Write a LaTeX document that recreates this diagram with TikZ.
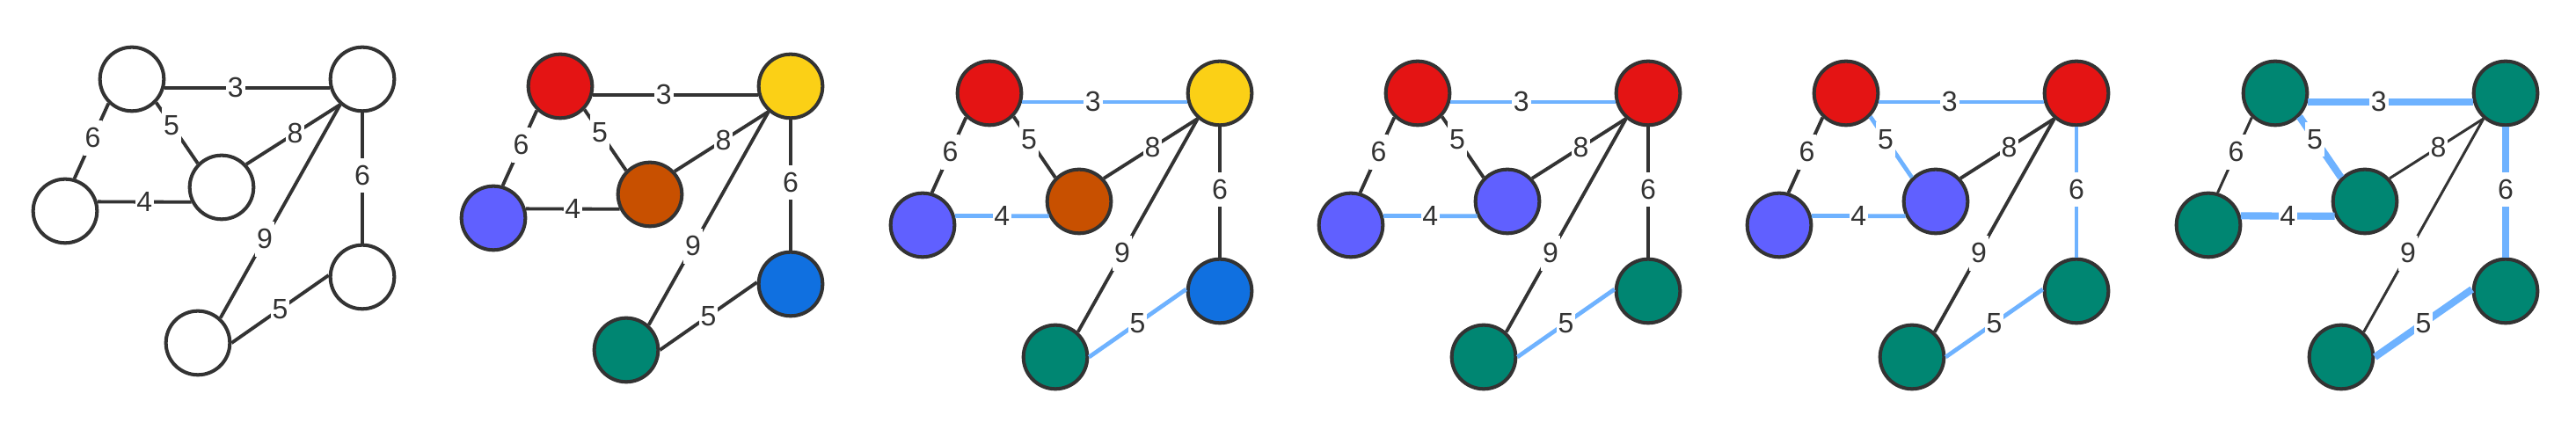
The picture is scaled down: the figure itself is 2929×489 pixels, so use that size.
\documentclass[tikz,border=0pt]{standalone}
\usepackage{fontspec}
\setmainfont{Liberation Sans}
\definecolor{ink}{HTML}{333333}
\definecolor{hiblue}{HTML}{6EB2FF}
\definecolor{cred}{HTML}{E41414}
\definecolor{cyellow}{HTML}{FBD016}
\definecolor{corange}{HTML}{C85000}
\definecolor{cpurple}{HTML}{6060FF}
\definecolor{cblue}{HTML}{1070E0}
\definecolor{cteal}{HTML}{008672}
\tikzset{
    vert/.style={circle,draw=ink,line width=1.15pt,minimum size=0.726cm,inner sep=0pt},
    edge/.style={draw=ink,line width=1.1pt},
    hot/.style={draw=hiblue,line width=1.35pt},
    hotter/.style={draw=hiblue,line width=2.3pt},
    wlabel/.style={fill=white,text=ink,inner xsep=0.5pt,inner ysep=2.4pt,font=\fontsize{9.1}{11}\selectfont},
    cA/.style={fill=white},cB/.style={fill=white},cC/.style={fill=white},
    cD/.style={fill=white},cE/.style={fill=white},cF/.style={fill=white},
    eAB/.style={},eAC/.style={},eAD/.style={},eCD/.style={},
    eDB/.style={},eBF/.style={},eBE/.style={},eFE/.style={},
    startcols/.style={cA/.style={fill=cred},cB/.style={fill=cyellow},cC/.style={fill=cpurple},
        cD/.style={fill=corange},cE/.style={fill=cblue},cF/.style={fill=cteal}},
    midcols/.style={cA/.style={fill=cred},cB/.style={fill=cred},cC/.style={fill=cpurple},
        cD/.style={fill=cpurple},cE/.style={fill=cteal},cF/.style={fill=cteal}},
}
% one copy of the graph, #1 = prefix of the node names
\newcommand\drawgraph[1]{%
    \node[vert,cA] (#1a) at (150,90) {};
    \node[vert,cB] (#1b) at (412,90) {};
    \node[vert,cC] (#1c) at (74,240) {};
    \node[vert,cD] (#1d) at (252,213) {};
    \node[vert,cE] (#1e) at (412,315) {};
    \node[vert,cF] (#1f) at (225,390) {};
    \draw[edge,eAB] (#1a.-15) -- node[wlabel,pos=.43] {3} (#1b.195);
    \draw[edge,eAC] (#1a.-134) -- node[wlabel,pos=.46] {6} (#1c.74);
    \draw[edge,eAD] (#1a.-44) -- node[wlabel,pos=.37] {5} (#1d.135);
    \draw[edge,eCD] (#1c.16) -- node[wlabel] {4} (#1d.-154);
    \draw[edge,eDB] (#1d.43) -- node[wlabel,pos=.52] {8} (#1b.-131);
    \draw[edge,eBF] (#1b.-131) -- node[wlabel,pos=.63] {9} (#1f.48);
    \draw[edge,eBE] (#1b.-90) -- node[wlabel,pos=.48] {6} (#1e.90);
    \draw[edge,eFE] (#1f.0) -- node[wlabel] {5} (#1e.177);
}
\begin{document}
\begin{tikzpicture}[x=0.01cm,y=-0.01cm]
    \useasboundingbox[fill=white] (0,0) rectangle (2929,489);
    % plain graph
    \drawgraph{p}
    % coloured
    \begin{scope}[shift={(487,8)},startcols]
        \drawgraph{q}
    \end{scope}
    \begin{scope}[shift={(975,16)},startcols,eAB/.style={hot},eCD/.style={hot},eFE/.style={hot}]
        \drawgraph{r}
    \end{scope}
    \begin{scope}[shift={(1462,16)},midcols,eAB/.style={hot},eCD/.style={hot},eFE/.style={hot}]
        \drawgraph{s}
    \end{scope}
    \begin{scope}[shift={(1949,16)},midcols,eAB/.style={hot},eCD/.style={hot},eFE/.style={hot},
            eAD/.style={hot},eBE/.style={hot}]
        \drawgraph{t}
    \end{scope}
    % final tree
    \begin{scope}[shift={(2437,16)},edge/.append style={line width=0.85pt},
            cA/.style={fill=cteal},cB/.style={fill=cteal},cC/.style={fill=cteal},
            cD/.style={fill=cteal},cE/.style={fill=cteal},cF/.style={fill=cteal},
            eAB/.style={hotter},eCD/.style={hotter},eFE/.style={hotter},
            eAD/.style={hotter},eBE/.style={hotter}]
        \drawgraph{u}
    \end{scope}
\end{tikzpicture}
\end{document}
